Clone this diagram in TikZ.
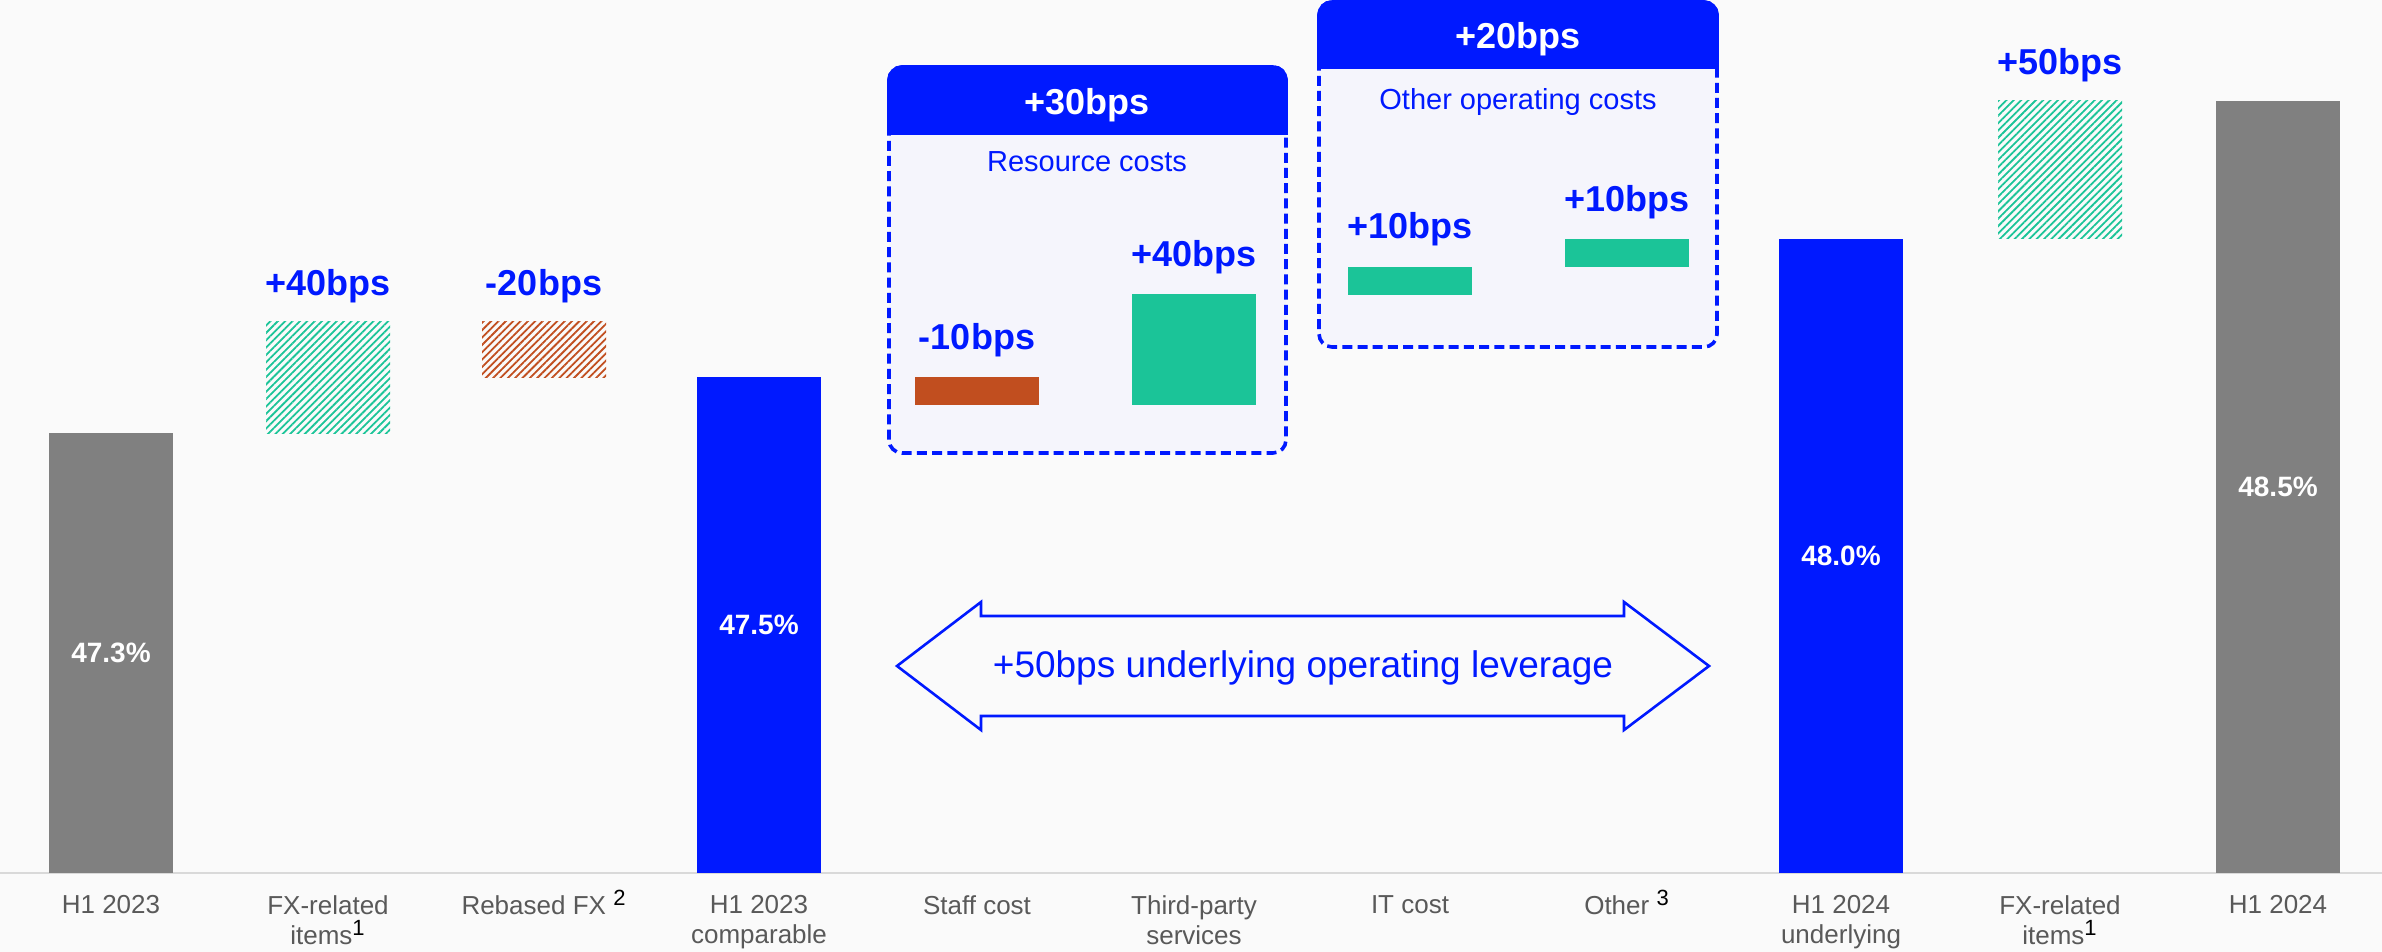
\documentclass[tikz,border=0pt]{standalone}
\usepackage{fontspec}
\setmainfont{Liberation Sans}
\usetikzlibrary{patterns.meta}

\definecolor{barblue}{RGB}{0,25,255}
\definecolor{bargray}{RGB}{128,128,128}
\definecolor{upgreen}{RGB}{27,196,152}
\definecolor{downorange}{RGB}{193,78,31}
\definecolor{boxfill}{RGB}{245,245,252}
\definecolor{axisgray}{RGB}{217,217,217}
\definecolor{labelgray}{RGB}{89,89,89}
\definecolor{bgcol}{RGB}{250,250,250}

\newcommand{\fnote}[1]{\smash{\textsuperscript{\color{black}\fontsize{11}{11}\selectfont#1}}}

\begin{document}
\begin{tikzpicture}[x=0.5pt,y=-0.5pt,
  bps/.style={text=barblue,font=\fontsize{18}{20}\selectfont\bfseries,anchor=base},
  pct/.style={text=white,font=\fontsize{14}{16}\selectfont\bfseries},
  cat/.style={text=labelgray,font=\fontsize{13}{15}\selectfont,align=center,anchor=north,inner sep=0pt},
  hatchup/.style={pattern={Lines[angle=45,distance=2.6pt,line width=0.9pt]},pattern color=upgreen},
  hatchdown/.style={pattern={Lines[angle=45,distance=2.6pt,line width=0.9pt]},pattern color=downorange},
  costbox/.style={fill=boxfill,draw=barblue,line width=1.8pt,dash pattern=on 5pt off 2.6pt,rounded corners=6.5pt},
  boxhead/.style={fill=barblue,draw=barblue,line width=1.8pt,rounded corners=6.5pt},
  headtxt/.style={text=white,font=\fontsize{18}{20}\selectfont\bfseries,anchor=base},
  subtxt/.style={text=barblue,font=\fontsize{14.5}{16}\selectfont,anchor=base}
]

% Background and frame
\fill[bgcol] (0,0) rectangle (2382,952);
\useasboundingbox (0,0) rectangle (2382,952);

% Axis
\draw[axisgray,line width=0.8pt] (0,873) -- (2382,873);

% Category labels
\foreach \x/\lab [count=\i] in {111/{H1 2023},328/{FX-related\\items\fnote{1}},
    544/{Rebased FX \fnote{2}},759/{H1 2023\\comparable},977/{Staff cost},
    1194/{Third-party\\services},1410/{IT cost},1627/{Other \fnote{3}},
    1841/{H1 2024\\underlying},2060/{FX-related\\items\fnote{1}},2278/{H1 2024}}
  \node[cat] (cat\i) at (\x,895) {\lab};

% Totals
\fill[bargray] (49,433) rectangle (173,873);
\fill[barblue] (697,377) rectangle (821,873);
\fill[barblue] (1779,239) rectangle (1903,873);
\fill[bargray] (2216,101) rectangle (2340,873);
\node[pct] (p2023) at (111,653) {47.3\%};
\node[pct] (pcomp) at (759,625) {47.5\%};
\node[pct] (punder) at (1841,556) {48.0\%};
\node[pct] (p2024) at (2278,487) {48.5\%};

% FX steps
\fill[hatchup] (266,321) rectangle (390,433);
\fill[hatchdown] (482,321) rectangle (606,377);
\fill[hatchup] (1998,101) rectangle (2122,239);
\node[bps] (fxa) at (328,295) {+40bps};
\node[bps] (rebased) at (544,295) {-20bps};
\node[bps] (fxb) at (2060,75) {+50bps};

% Resource costs box
\filldraw[costbox] (889,67) rectangle (1286,453);
\begin{scope}
  \clip (870,50) rectangle (1305,135);
  \filldraw[boxhead] (889,67) rectangle (1286,170);
\end{scope}
\node[headtxt] (res) at (1087,115) {+30bps};
\node[subtxt] (restxt) at (1087,172) {Resource costs};
\fill[downorange] (915,377) rectangle (1039,405);
\fill[upgreen] (1132,294) rectangle (1256,405);
\node[bps] (staff) at (977,350) {-10bps};
\node[bps] (third) at (1194,267) {+40bps};

% Other operating costs box
\filldraw[costbox] (1319,2) rectangle (1717,347);
\begin{scope}
  \clip (1300,-10) rectangle (1735,69);
  \filldraw[boxhead] (1319,2) rectangle (1717,100);
\end{scope}
\node[headtxt] (oth) at (1518,49) {+20bps};
\node[subtxt] (othtxt) at (1518,110) {Other operating costs};
\fill[upgreen] (1348,267) rectangle (1472,295);
\fill[upgreen] (1565,239) rectangle (1689,267);
\node[bps] (itc) at (1410,239) {+10bps};
\node[bps] (other) at (1627,212) {+10bps};

% Operating leverage arrow
\draw[barblue,line width=1.3pt] (897,666) -- (981,602) -- (981,616) -- (1624,616) -- (1624,602)
  -- (1709,666) -- (1624,730) -- (1624,716) -- (981,716) -- (981,730) -- cycle;
\node[text=barblue,font=\fontsize{18.5}{20}\selectfont] (lev) at (1303,668) {+50bps underlying operating leverage};

\end{tikzpicture}
\end{document}
